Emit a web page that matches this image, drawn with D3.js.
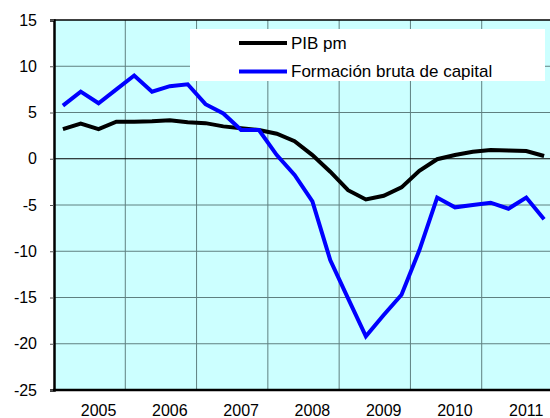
<!DOCTYPE html>
<html>
<head>
<meta charset="utf-8">
<script src="https://cdn.jsdelivr.net/npm/d3@7"></script>
<style>
  body { margin: 0; background: #fff; }
  svg { display: block; font-family: Arial, "Liberation Sans", sans-serif; }
</style>
</head>
<body>
<svg id="chart" width="550" height="418"></svg>
<script>
// quarterly series, 2005 Q1 .. 2011 Q4
const years = ["2005", "2006", "2007", "2008", "2009", "2010", "2011"];
const quarters = years.flatMap((y) => [1, 2, 3, 4].map((q) => `${y}T${q}`));

const pib = [3.2, 3.8, 3.2, 4.0, 4.0, 4.05, 4.15, 3.95, 3.85, 3.5, 3.3, 3.1, 2.7, 1.9,
  0.4, -1.4, -3.4, -4.4, -4.0, -3.1, -1.3, -0.05, 0.4, 0.75, 0.95, 0.88, 0.84, 0.3];
const fbc = [5.75, 7.25, 6.0, 7.5, 9.0, 7.25, 7.85, 8.05, 5.9, 4.9, 3.1, 3.1, 0.4, -1.75,
  -4.6, -10.95, -15.1, -19.2, -16.9, -14.7, -9.9, -4.2, -5.25, -5.0, -4.75, -5.4, -4.2, -6.55];

const yTicks = [-25, -20, -15, -10, -5, 0, 5, 10, 15];
const series = [
  { name: "PIB pm", values: pib, color: "#000000" },
  { name: "Formación bruta de capital", values: fbc, color: "#0000ff" },
];

const svg = d3.select("#chart");
const margin = { left: 54, top: 20, right: -3, bottom: 28 };
const W = 550, H = 418;

const x = d3.scaleBand().domain(quarters).range([margin.left, W - margin.right]);
const y = d3.scaleLinear().domain([-25, 15]).range([H - margin.bottom, margin.top]);
const cx = (i) => x(quarters[i]) + x.bandwidth() / 2;

// plot background
svg.append("rect")
  .attr("x", margin.left).attr("y", margin.top)
  .attr("width", W - margin.right - margin.left)
  .attr("height", y(-25) - margin.top)
  .attr("fill", "#ccffff");

// horizontal grid
svg.append("g").selectAll("line")
  .data(yTicks.filter((d) => d !== -25 && d !== 15 && d !== 0))
  .join("line")
  .attr("x1", margin.left).attr("x2", W)
  .attr("y1", (d) => y(d)).attr("y2", (d) => y(d))
  .attr("stroke", "#5f8080").attr("stroke-width", 1);

// vertical grid at year boundaries
svg.append("g").selectAll("line")
  .data(years.slice(1))
  .join("line")
  .attr("x1", (d) => x(`${d}T1`)).attr("x2", (d) => x(`${d}T1`))
  .attr("y1", margin.top).attr("y2", y(-25))
  .attr("stroke", "#5f8080").attr("stroke-width", 1);

// zero line
svg.append("line")
  .attr("x1", margin.left).attr("x2", W)
  .attr("y1", y(0)).attr("y2", y(0))
  .attr("stroke", "#000").attr("stroke-width", 1.2);

// top frame
svg.append("line")
  .attr("x1", margin.left).attr("x2", W)
  .attr("y1", margin.top).attr("y2", margin.top)
  .attr("stroke", "#000").attr("stroke-width", 1.5);

// y axis, plain hyphen for negatives
const yAxis = svg.append("g")
  .attr("transform", `translate(${margin.left},0)`)
  .call(d3.axisLeft(y).tickValues(yTicks).tickSize(4).tickPadding(13)
    .tickFormat((d) => String(d)));
yAxis.select(".domain").attr("stroke-width", 2.5);
yAxis.selectAll(".tick line").attr("stroke", "#555");
yAxis.selectAll("text").attr("font-size", 16).attr("fill", "#000")
  .attr("font-family", "Arial, 'Liberation Sans', sans-serif");

// bottom axis line
svg.append("line")
  .attr("x1", margin.left - 1).attr("x2", W)
  .attr("y1", y(-25)).attr("y2", y(-25))
  .attr("stroke", "#000").attr("stroke-width", 2.5);

// year labels (under third quarter)
svg.append("g").selectAll("text")
  .data(years)
  .join("text")
  .attr("x", (d) => cx(quarters.indexOf(`${d}T3`)))
  .attr("y", 416)
  .attr("text-anchor", "middle")
  .attr("font-size", 16)
  .text((d) => d);

// lines
const line = d3.line()
  .x((d, i) => cx(i))
  .y((d) => y(d));

svg.append("g").selectAll("path")
  .data(series)
  .join("path")
  .attr("d", (d) => line(d.values))
  .attr("fill", "none")
  .attr("stroke", (d) => d.color)
  .attr("stroke-width", 4)
  .attr("stroke-linejoin", "miter");

// legend
const legend = svg.append("g");
legend.append("rect")
  .attr("x", 190).attr("y", 29)
  .attr("width", 355).attr("height", 52)
  .attr("fill", "#fff");

const items = legend.selectAll("g.item")
  .data(series)
  .join("g")
  .attr("class", "item")
  .attr("transform", (d, i) => `translate(0,${43 + i * 28.5})`);

items.append("line")
  .attr("x1", 239).attr("x2", 287)
  .attr("stroke", (d) => d.color)
  .attr("stroke-width", 4);

items.append("text")
  .attr("x", 291).attr("y", 0)
  .attr("dy", "0.35em")
  .attr("font-size", 17)
  .text((d) => d.name);
</script>
</body>
</html>
